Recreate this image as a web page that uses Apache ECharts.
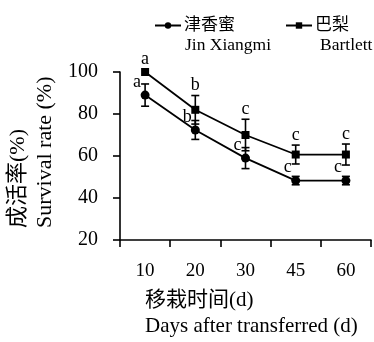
<!DOCTYPE html>
<html><head><meta charset="utf-8">
<script src="https://cdn.jsdelivr.net/npm/echarts@6/dist/echarts.min.js"></script>
<style>html,body{margin:0;padding:0;background:#fff}#c{width:374px;height:342px}</style>
</head><body><div id="c"></div>
<script>
var categories = ['10', '20', '30', '45', '60'];
var jinValues = [89, 72.4, 59, 48.3, 48.3];
var jinErr = [5.3, 4.5, 5, 2, 2];
var jinLetters = ['a', 'b', 'c', 'c', 'c'];
var bartValues = [100, 82, 70, 60.7, 60.7];
var bartErr = [0, 6.8, 7.5, 4.5, 5];
var bartLetters = ['a', 'b', 'c', 'c', 'c'];
var yTicks = [20, 40, 60, 80, 100];

var serif = '"Liberation Serif", "Times New Roman", "Noto Sans CJK SC", serif';
var chart = echarts.init(document.getElementById('c'));

function errSeries(vals, errs, letters, dx, dy, above) {
  var data = vals.map(function (v, i) { return [i, v, errs[i], letters[i]]; });
  return {
    type: 'custom', z: 5, silent: true,
    data: data,
    renderItem: function (params, api) {
      var i = api.value(0), v = api.value(1), e = api.value(2);
      var p = api.coord([i, v]);
      var hi = api.coord([i, v + e]);
      var lo = api.coord([i, v - e]);
      var cw = 4;
      var style = { stroke: '#000', lineWidth: 1.6 };
      var children = [];
      if (e > 0) {
        children.push({ type: 'line', shape: { x1: p[0], y1: hi[1], x2: p[0], y2: lo[1] }, style: style });
        children.push({ type: 'line', shape: { x1: p[0] - cw, y1: hi[1], x2: p[0] + cw, y2: hi[1] }, style: style });
        children.push({ type: 'line', shape: { x1: p[0] - cw, y1: lo[1], x2: p[0] + cw, y2: lo[1] }, style: style });
      }
      var ty = above ? hi[1] - 10 : p[1] + dy;
      if (above && e === 0) ty = p[1] - 13;
      children.push({ type: 'text', style: { text: api.value(3), x: p[0] + dx, y: ty, fill: '#000',
        font: '18px ' + serif, align: 'center', verticalAlign: 'middle' } });
      return { type: 'group', children: children };
    }
  };
}

chart.setOption({
  backgroundColor: '#fff',
  animation: false,
  legend: {
    left: 149, top: 12, itemWidth: 26, itemHeight: 8, itemGap: 50,
    textStyle: { fontFamily: serif, fontSize: 17, color: '#000', padding: [0, 0, 0, -2] },
    data: [{ name: '津香蜜' }, { name: '巴梨' }]
  },
  graphic: [
    { type: 'text', left: 185, top: 37, style: { text: 'Jin Xiangmi', font: '17.5px ' + serif, fill: '#000' } },
    { type: 'text', left: 320, top: 37, style: { text: 'Bartlett', font: '17.5px ' + serif, fill: '#000' } },
    { type: 'text', x: 145, y: 300, style: { text: '移栽时间(d)', font: '21px ' + serif, fill: '#000', verticalAlign: 'middle' } },
    { type: 'text', x: 145, y: 326, style: { text: 'Days after transferred (d)', font: '21px ' + serif, fill: '#000', verticalAlign: 'middle' } },
    { type: 'text', x: 18, y: 228, rotation: Math.PI / 2, style: { text: '成活率(%)', font: '22px ' + serif, fill: '#000', align: 'left', verticalAlign: 'middle' } },
    { type: 'text', x: 45, y: 228, rotation: Math.PI / 2, style: { text: 'Survival rate (%)', font: '22px ' + serif, fill: '#000', align: 'left', verticalAlign: 'middle' } }
  ],
  grid: { left: 120, right: 3, top: 72, bottom: 102, containLabel: false },
  xAxis: {
    type: 'category', data: categories, boundaryGap: true,
    axisLine: { lineStyle: { color: '#000', width: 1.6 } },
    axisTick: { show: true, length: 7, lineStyle: { color: '#000', width: 1.6 } },
    axisLabel: { color: '#000', fontFamily: serif, fontSize: 19, margin: 22 },
    splitLine: { show: false }
  },
  yAxis: {
    type: 'value', min: 20, max: 100, interval: 20,
    axisLine: { show: true, lineStyle: { color: '#000', width: 1.6 } },
    axisTick: { show: true, length: 7, lineStyle: { color: '#000', width: 1.6 } },
    axisLabel: { color: '#000', fontFamily: serif, fontSize: 20, margin: 22,
      formatter: function (v) { return yTicks.indexOf(v) >= 0 ? String(v) : ''; } },
    splitLine: { show: false }
  },
  series: [
    { name: '津香蜜', type: 'line', data: jinValues, symbol: 'circle', symbolSize: 9,
      itemStyle: { color: '#000' }, lineStyle: { color: '#000', width: 1.8 }, z: 3 },
    { name: '巴梨', type: 'line', data: bartValues, symbol: 'rect', symbolSize: 8,
      itemStyle: { color: '#000' }, lineStyle: { color: '#000', width: 1.8 }, z: 3 },
    errSeries(jinValues, jinErr, jinLetters, -8, -13, false),
    errSeries(bartValues, bartErr, bartLetters, 0, 0, true)
  ]
});
</script></body></html>
